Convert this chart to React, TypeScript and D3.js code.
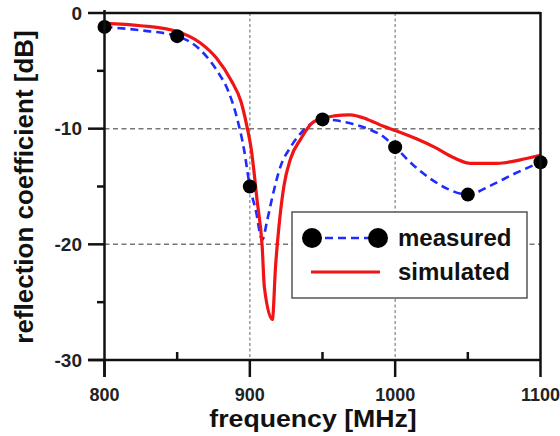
import React from 'react';
import * as d3 from 'd3';

// measured S11 trace (dense) and the sweep points shown as markers
const measFreq = [800, 825, 850, 866, 878, 885, 891, 896, 900, 904, 908.5, 912, 915.5, 921, 928, 935, 942, 950, 960, 971, 983, 992, 1000, 1012, 1024, 1036, 1050, 1066, 1082, 1100];
const measDb = [-1.2, -1.5, -2.0, -3.2, -5.1, -6.7, -9.0, -11.8, -15.0, -17.0, -19.6, -17.9, -15.9, -13.3, -11.6, -10.4, -9.6, -9.2, -9.3, -9.6, -10.1, -10.7, -11.6, -13.1, -14.3, -15.2, -15.7, -14.9, -13.9, -12.9];
const markerFreq = [800, 850, 900, 950, 1000, 1050, 1100];
const markerDb = [-1.2, -2.0, -15.0, -9.2, -11.6, -15.7, -12.9];

// simulated S11
const simFreq = [800, 825, 850, 866, 877, 887, 894, 898, 901, 905, 908.5, 910, 915.5, 917.7, 920, 923.4, 928, 935, 944, 958, 969, 981, 992, 1001, 1015, 1027, 1040, 1052, 1070, 1086, 1100];
const simDb = [-0.9, -1.1, -1.6, -2.6, -3.9, -5.8, -7.7, -9.8, -11.8, -16.2, -20.2, -23.7, -26.5, -21.9, -18.5, -15.0, -12.6, -10.9, -9.4, -8.9, -8.8, -9.2, -9.8, -10.2, -10.9, -11.6, -12.5, -13.0, -13.0, -12.7, -12.3];

const xTicks = [800, 900, 1000, 1100];
const xMinor = [850, 950, 1050];
const yTicks = [0, -10, -20, -30];
const yMinor = [-5, -15, -25];
const xGrid = [900, 1000];
const yGrid = [-10, -20];

const W = 560;
const H = 436;
const FONT = '"Liberation Sans", Arial, sans-serif';

export default function App() {
  const x = d3.scaleLinear().domain([800, 1100]).range([104.5, 540.5]);
  const y = d3.scaleLinear().domain([0, -30]).range([13, 360]);
  const [x0, x1] = x.range();
  const [y0, y1] = y.range();

  const line = d3.line<[number, number]>()
    .x(d => x(d[0]))
    .y(d => y(d[1]))
    .curve(d3.curveMonotoneX);

  const meas = measFreq.map((f, i) => [f, measDb[i]] as [number, number]);
  const sim = simFreq.map((f, i) => [f, simDb[i]] as [number, number]);

  return (
    <svg width={W} height={H} style={{ position: 'absolute', left: 0, top: 0, background: '#fff' }}
      fontFamily={FONT} fontWeight="bold">
      {/* grid */}
      {xGrid.map(v => (
        <line key={'gx' + v} x1={x(v)} x2={x(v)} y1={y0} y2={y1}
          stroke="#999" strokeWidth={1.5} strokeDasharray="3,2.5" />
      ))}
      {yGrid.map(v => (
        <line key={'gy' + v} x1={x0} x2={x1} y1={y(v)} y2={y(v)}
          stroke="#777" strokeWidth={1.5} strokeDasharray="5,3.5" />
      ))}

      {/* curves */}
      <path d={line(meas) ?? ''} fill="none" stroke="#1f2cff" strokeWidth={2.6} strokeDasharray="8,5" />
      <path d={line(sim) ?? ''} fill="none" stroke="#f01414" strokeWidth={3.2} />
      {markerFreq.map((f, i) => (
        <circle key={'m' + f} cx={x(f)} cy={y(markerDb[i])} r={7} fill="#000" />
      ))}

      {/* frame */}
      <line x1={x0} x2={x1} y1={y0} y2={y0} stroke="#111" strokeWidth={2.5} />
      <line x1={x1} x2={x1} y1={y0 - 1} y2={y1} stroke="#111" strokeWidth={2.5} />
      <line x1={88} x2={x1} y1={y1} y2={y1} stroke="#111" strokeWidth={2.5} />
      <line x1={x0} x2={x0} y1={y0 - 3} y2={y1 + 17} stroke="#111" strokeWidth={2.5} />

      {/* x ticks */}
      {xTicks.map(v => (
        <g key={'xt' + v}>
          <line x1={x(v)} x2={x(v)} y1={y1} y2={y1 + 17} stroke="#111" strokeWidth={2.5} />
          <text x={x(v)} y={401} textAnchor="middle" fontSize={18} fill="#222">{v}</text>
        </g>
      ))}
      {xMinor.map(v => (
        <line key={'xm' + v} x1={x(v)} x2={x(v)} y1={y1} y2={y1 - 8} stroke="#111" strokeWidth={2.5} />
      ))}

      {/* y ticks */}
      {yTicks.map(v => (
        <g key={'yt' + v}>
          <line x1={88} x2={x0} y1={y(v)} y2={y(v)} stroke="#111" strokeWidth={2.5} />
          <text x={82} y={y(v)} dy="0.35em" textAnchor="end" fontSize={19} fill="#222">{v}</text>
        </g>
      ))}
      {yMinor.map(v => (
        <line key={'ym' + v} x1={97} x2={x0} y1={y(v)} y2={y(v)} stroke="#111" strokeWidth={2.5} />
      ))}

      {/* axis titles */}
      <text transform="translate(313,427) scale(1.16,1)" textAnchor="middle" fontSize={23} fill="#111">
        frequency [MHz]
      </text>
      <text transform="translate(33,187) rotate(-90)" textAnchor="middle" fontSize={26} fill="#111">
        reflection coefficient [dB]
      </text>

      {/* legend */}
      <rect x={292} y={212} width={235} height={86} fill="#fff" stroke="#555" strokeWidth={1.5} />
      <line x1={312} x2={378} y1={238} y2={238} stroke="#1f2cff" strokeWidth={2.6} strokeDasharray="8,5" />
      <circle cx={312} cy={238} r={10} fill="#000" />
      <circle cx={378} cy={238} r={10} fill="#000" />
      <text x={398} y={246} fontSize={24} fill="#111">measured</text>
      <line x1={311} x2={380} y1={272} y2={272} stroke="#f01414" strokeWidth={3.2} />
      <text x={398} y={280} fontSize={24} fill="#111">simulated</text>
    </svg>
  );
}
